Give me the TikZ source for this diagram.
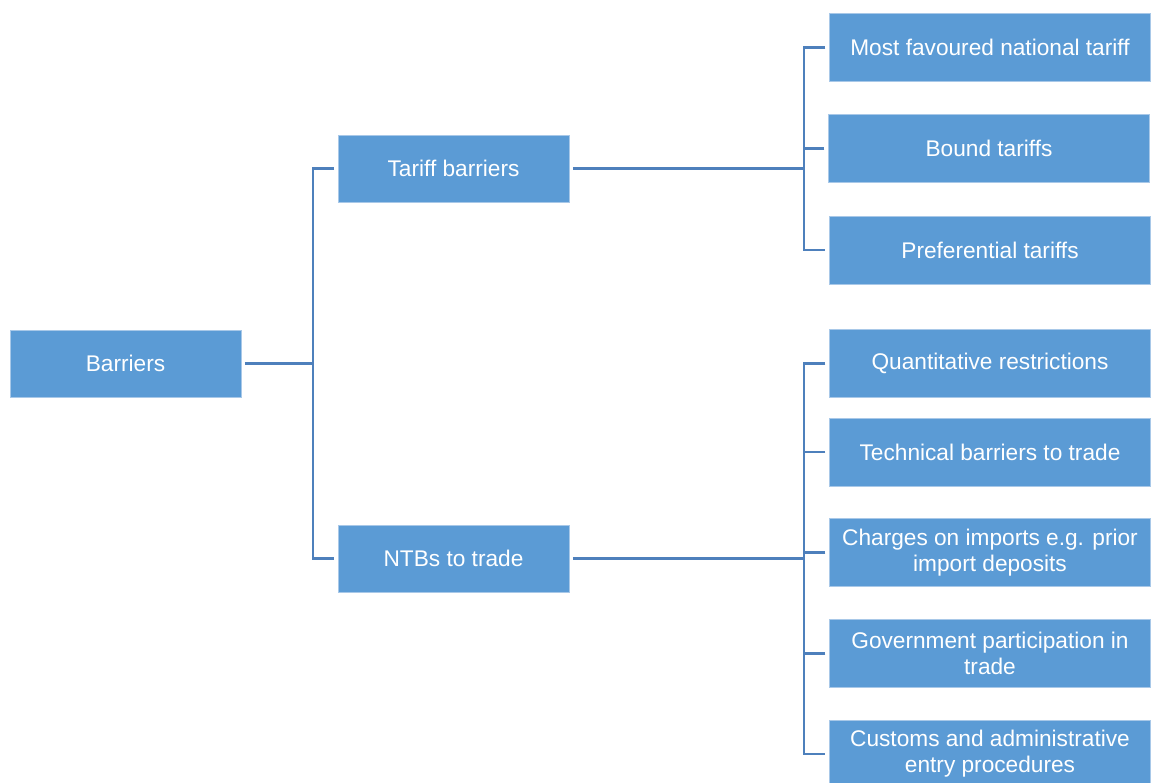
\documentclass[tikz,border=0pt]{standalone}
\usepackage{fontspec}
\setmainfont{Liberation Sans}
\usepackage{tikz}
\usetikzlibrary{positioning, calc}
\definecolor{boxblue}{HTML}{5B9BD5}
\definecolor{edgeblue}{HTML}{A8C8E8}
\definecolor{linkblue}{HTML}{4E80BC}
\tikzset{
  level/.style  = {rectangle, draw=edgeblue, line width=0.5pt, fill=boxblue,
                   text=white, minimum width=173pt, minimum height=50pt,
                   outer sep=3pt, align=center,
                   font=\fontsize{17}{19.5}\selectfont},
  leaf/.style   = {level, minimum width=241pt, minimum height=51pt},
  link/.style   = {line width=2.2pt, linkblue},
}

\begin{document}
\begin{tikzpicture}[x=0.75pt, y=-0.75pt]

  \useasboundingbox (0,0) rectangle (1152,782);

  % Root and first level
  \node[level] (barriers) at (125.5,363.5) {Barriers};
  \node[level] (tariff)   at (453.5,168.5) {Tariff barriers};
  \node[level] (ntb)      at (453.5,558.5) {NTBs to trade};

  % Tariff leaves
  \node[leaf] (mfn)   at (990,47.5)  {Most favoured national tariff};
  \node[leaf] (bound) at (989,148.5) {Bound tariffs};
  \node[leaf] (pref)  at (990,250)   {Preferential tariffs};

  % NTB leaves
  \node[leaf] (quant)   at (990,363.5) {Quantitative restrictions};
  \node[leaf] (tech)    at (990,452)   {Technical barriers to trade};
  \node[leaf] (charges) at (990,552.5) {Charges on imports e.g. prior\\import deposits};
  \node[leaf] (gov)     at (990,653.5) {Government participation in\\trade};
  \node[leaf] (customs) at (990,754)   {Customs and administrative\\entry procedures};

  % Junctions
  \coordinate (j0) at (313,363.5);
  \coordinate (j1) at (804,168.5);
  \coordinate (j2) at (804,558.5);

  % Barriers to first level
  \draw[link] (barriers.east) -- (j0);
  \draw[link] (tariff.west) -| (j0) |- (ntb.west);

  % Tariff barriers to leaves
  \draw[link] (tariff.east) -- (j1);
  \draw[link] (mfn.west) -| (j1) |- (pref.west);
  \draw[link] (bound.west) -- (bound.west -| j1);

  % NTBs to leaves
  \draw[link] (ntb.east) -- (j2);
  \draw[link] (quant.west) -| (j2) |- (customs.west);
  \draw[link] (tech.west) -- (tech.west -| j2);
  \draw[link] (charges.west) -- (charges.west -| j2);
  \draw[link] (gov.west) -- (gov.west -| j2);

\end{tikzpicture}
\end{document}
